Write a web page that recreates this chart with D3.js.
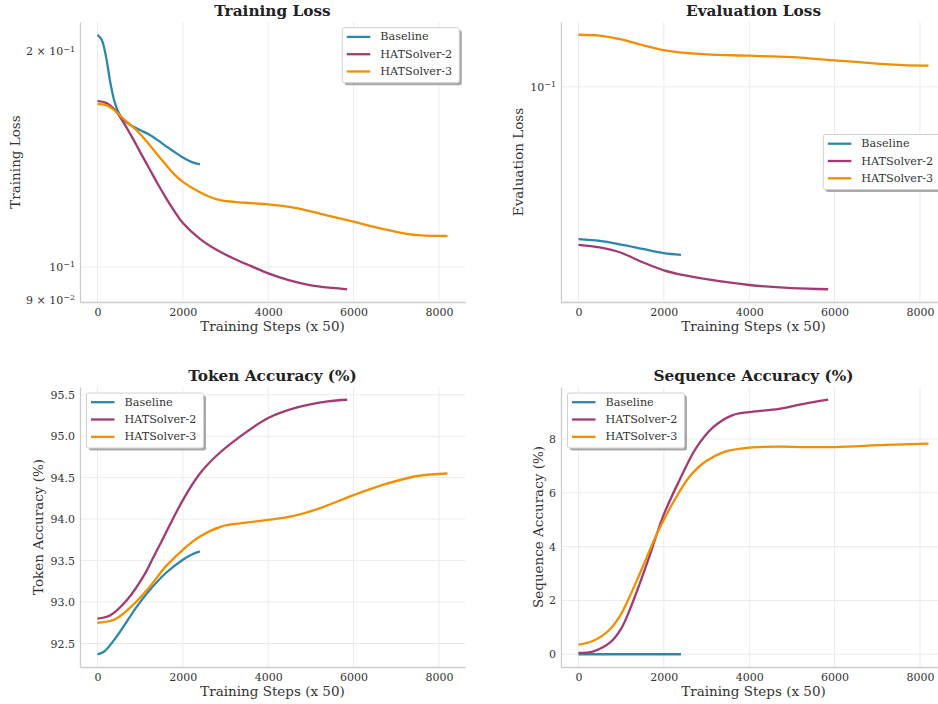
<!DOCTYPE html>
<html><head><meta charset="utf-8">
<script src="https://cdn.jsdelivr.net/npm/d3@7"></script>
<style>
body{margin:0;background:#fff}
svg{display:block}
text{font-family:"DejaVu Serif",serif}
</style>
</head><body>
<svg id="chart" width="938" height="704"></svg>
<script>
// ---------- data ----------
const seriesNames = ["Baseline", "HATSolver-2", "HATSolver-3"];
const xTicks = [0, 2000, 4000, 6000, 8000];

const trainLossBaseline = [[0,0.211],[100,0.2075],[200,0.1965],[300,0.181],[400,0.170],[500,0.1640],[600,0.1607],[800,0.1575],[1000,0.1553],[1200,0.1532],[1400,0.1505],[1600,0.1475],[1800,0.1448],[2000,0.1422],[2200,0.1402],[2400,0.1391]];
const trainLossHS2 = [[0,0.1704],[200,0.1695],[400,0.1660],[600,0.1595],[800,0.1522],[1000,0.1447],[1200,0.1377],[1400,0.1310],[1600,0.1250],[1800,0.1197],[2000,0.1152],[2400,0.1095],[2800,0.1056],[3200,0.1027],[3600,0.1003],[4000,0.0980],[4500,0.0958],[5000,0.0943],[5500,0.0935],[5850,0.0931]];
const trainLossHS3 = [[0,0.1688],[200,0.1683],[400,0.1655],[600,0.1612],[800,0.1575],[1000,0.1534],[1200,0.1485],[1400,0.1436],[1600,0.1390],[1800,0.1347],[2000,0.1315],[2400,0.1272],[2800,0.1243],[3200,0.1233],[3600,0.1228],[4000,0.1223],[4500,0.1213],[5000,0.1196],[5500,0.1176],[6000,0.1157],[6500,0.1137],[7000,0.1120],[7500,0.1108],[8000,0.1105],[8200,0.1105]];
const trainLossTicks = [0.09, 0.1, 0.2];

const evalLossBaseline = [[0,0.0245],[500,0.0241],[1000,0.0233],[1500,0.0224],[2000,0.02154],[2400,0.0212]];
const evalLossHS2 = [[0,0.02326],[500,0.02270],[1000,0.02160],[1500,0.01980],[2000,0.01837],[2500,0.01752],[3000,0.01693],[4000,0.01604],[5000,0.01558],[5850,0.01542]];
const evalLossHS3 = [[0,0.1619],[500,0.1605],[1000,0.1552],[1500,0.1472],[2000,0.1405],[2500,0.1368],[3000,0.1350],[4000,0.1334],[5000,0.1316],[6000,0.1278],[7000,0.1240],[7600,0.1222],[8200,0.1217]];
const evalLossTicks = [0.1];

const tokenAccBaseline = [[0,92.37],[150,92.40],[500,92.62],[900,92.93],[1200,93.13],[1600,93.35],[2000,93.51],[2200,93.57],[2400,93.61]];
const tokenAccHS2 = [[0,92.80],[300,92.84],[700,93.03],[1100,93.33],[1300,93.53],[1500,93.73],[2000,94.23],[2400,94.55],[2800,94.77],[3300,94.98],[4000,95.22],[4700,95.35],[5400,95.42],[5850,95.44]];
const tokenAccHS3 = [[0,92.75],[400,92.79],[800,92.95],[1200,93.17],[1600,93.43],[2000,93.63],[2400,93.79],[2900,93.91],[3350,93.95],[4000,93.99],[4600,94.04],[5200,94.13],[6000,94.29],[6800,94.43],[7500,94.52],[8200,94.55]];
const tokenAccTicks = [92.5, 93.0, 93.5, 94.0, 94.5, 95.0, 95.5];

const seqAccBaseline = [[0,0],[2400,0]];
const seqAccHS2 = [[0,0.05],[350,0.11],[750,0.45],[1000,0.95],[1250,1.85],[1675,3.7],[1830,4.45],[2000,5.2],[2375,6.5],[2750,7.65],[3150,8.43],[3600,8.88],[4000,9.00],[4700,9.12],[5250,9.30],[5850,9.46]];
const seqAccHS3 = [[0,0.36],[350,0.5],[750,0.95],[1000,1.5],[1200,2.15],[1450,3.05],[1830,4.45],[2000,5.0],[2220,5.65],[2600,6.6],[3000,7.19],[3450,7.54],[4000,7.68],[4700,7.72],[5300,7.70],[6000,7.70],[7200,7.78],[8200,7.83]];
const seqAccTicks = [0, 2, 4, 6, 8];

// ---------- style ----------
const colors = ["#2E86AB", "#A23B72", "#F18F01"];
const svg = d3.select("#chart");
const W = 385, H = 280;

function logLabel(v) {
  const e = Math.floor(Math.log10(v) + 1e-9);
  const m = Math.round(v / Math.pow(10, e));
  return {base: (m === 1 ? "" : m + " \u00D7 ") + "10", exp: "\u2212" + Math.abs(e)};
}

function panel(cfg) {
  const g = svg.append("g").attr("transform", `translate(${cfg.left},${cfg.top})`);
  const all = cfg.series.flat();
  const xExt = [0, d3.max(all, d => d[0])];
  const xm = (xExt[1] - xExt[0]) * 0.05;
  const x = d3.scaleLinear().domain([xExt[0] - xm, xExt[1] + xm]).range([0, W]);
  let y;
  const yMin = d3.min(all, d => d[1]), yMax = d3.max(all, d => d[1]);
  if (cfg.log) {
    const l0 = Math.log10(yMin), l1 = Math.log10(yMax), m = (l1 - l0) * 0.05;
    y = d3.scaleLog().domain([Math.pow(10, l0 - m), Math.pow(10, l1 + m)]).range([H, 0]);
  } else {
    const m = (yMax - yMin) * 0.05;
    y = d3.scaleLinear().domain([yMin - m, yMax + m]).range([H, 0]);
  }
  // grid
  g.append("g").selectAll("line").data(xTicks).join("line")
    .attr("x1", d => x(d)).attr("x2", d => x(d)).attr("y1", 0).attr("y2", H)
    .attr("stroke", "#ebebeb").attr("stroke-width", 1);
  const gridY = cfg.log ? cfg.yTicks.filter(v => Math.abs(Math.log10(v) - Math.round(Math.log10(v))) < 1e-9) : cfg.yTicks;
  g.append("g").selectAll("line").data(gridY).join("line")
    .attr("x1", 0).attr("x2", W).attr("y1", d => y(d)).attr("y2", d => y(d))
    .attr("stroke", "#ebebeb").attr("stroke-width", 1);

  // axes via d3
  const xAxis = d3.axisBottom(x).tickValues(xTicks).tickFormat(d3.format("d")).tickSize(0).tickPadding(6);
  const xg = g.append("g").attr("transform", `translate(0,${H})`).call(xAxis);
  xg.select(".domain").attr("stroke", "#cccccc").attr("stroke-width", 1.3);
  xg.selectAll("text").attr("font-size", 11).attr("fill", "#333").attr("font-family", "DejaVu Serif");

  const yAxis = d3.axisLeft(y).tickValues(cfg.yTicks).tickSize(0).tickPadding(5)
    .tickFormat(cfg.log ? "" : cfg.fmt);
  const yg = g.append("g").call(yAxis);
  yg.select(".domain").attr("stroke", "#cccccc").attr("stroke-width", 1.3);
  yg.selectAll("text").attr("font-size", 11).attr("fill", "#333").attr("font-family", "DejaVu Serif");
  if (cfg.log) {
    yg.selectAll(".tick text").each(function(d) {
      const t = d3.select(this), lb = logLabel(d);
      t.text(null);
      t.append("tspan").text(lb.base);
      t.append("tspan").attr("dy", "-0.45em").attr("font-size", 8).text(lb.exp);
    });
  }

  // lines
  const line = d3.line().x(d => x(d[0])).y(d => y(d[1])).curve(d3.curveCatmullRom.alpha(0.5));
  cfg.series.forEach((s, i) => {
    g.append("path").datum(s).attr("d", line).attr("fill", "none")
      .attr("stroke", colors[i]).attr("stroke-width", 2.3)
      .attr("stroke-linejoin", "round").attr("stroke-linecap", "butt");
  });

  // title & labels
  g.append("text").attr("x", W / 2).attr("y", -6).attr("text-anchor", "middle")
    .attr("font-size", 15.3).attr("font-weight", "bold").attr("fill", "#222").text(cfg.title);
  g.append("text").attr("x", W / 2).attr("y", H + 29).attr("text-anchor", "middle")
    .attr("font-size", 13.5).attr("fill", "#333").text("Training Steps (x 50)");
  g.append("text").attr("transform", `translate(${cfg.ylabX},${H / 2}) rotate(-90)`)
    .attr("text-anchor", "middle").attr("dominant-baseline", "central")
    .attr("font-size", 13.5).attr("fill", "#333").text(cfg.ylabel);

  // legend
  const lw = 117, lh = 55;
  let lx, ly;
  if (cfg.legend === "ur") { lx = W - 5.7 - lw; ly = 5.7; }
  else if (cfg.legend === "cr") { lx = W - 5.7 - lw; ly = H / 2 - lh / 2; }
  else { lx = 6.5; ly = 6; }
  const lg = g.append("g").attr("transform", `translate(${lx},${ly})`);
  lg.append("rect").attr("x", 2.5).attr("y", 2.5).attr("width", lw).attr("height", lh)
    .attr("rx", 2).attr("fill", "#9a9a9a").attr("opacity", 0.85);
  lg.append("rect").attr("width", lw).attr("height", lh).attr("rx", 2)
    .attr("fill", "#fff").attr("stroke", "#d0d0d0").attr("stroke-width", 1);
  seriesNames.forEach((n, i) => {
    const cy = 9.2 + i * 17.3;
    lg.append("line").attr("x1", 4.5).attr("x2", 28).attr("y1", cy).attr("y2", cy)
      .attr("stroke", colors[i]).attr("stroke-width", 2.3);
    lg.append("text").attr("x", 38).attr("y", cy).attr("dominant-baseline", "central")
      .attr("font-size", 11.2).attr("fill", "#333").text(n);
  });
}

panel({left: 80, top: 22, title: "Training Loss", ylabel: "Training Loss", ylabX: -65, log: true,
  yTicks: trainLossTicks, series: [trainLossBaseline, trainLossHS2, trainLossHS3], legend: "ur"});
panel({left: 561, top: 22, title: "Evaluation Loss", ylabel: "Evaluation Loss", ylabX: -43, log: true,
  yTicks: evalLossTicks, series: [evalLossBaseline, evalLossHS2, evalLossHS3], legend: "cr"});
panel({left: 80, top: 387, title: "Token Accuracy (%)", ylabel: "Token Accuracy (%)", ylabX: -42, log: false,
  fmt: d3.format(".1f"), yTicks: tokenAccTicks, series: [tokenAccBaseline, tokenAccHS2, tokenAccHS3], legend: "ul"});
panel({left: 561, top: 387, title: "Sequence Accuracy (%)", ylabel: "Sequence Accuracy (%)", ylabX: -23, log: false,
  fmt: d3.format("d"), yTicks: seqAccTicks, series: [seqAccBaseline, seqAccHS2, seqAccHS3], legend: "ul"});
</script>
</body></html>
